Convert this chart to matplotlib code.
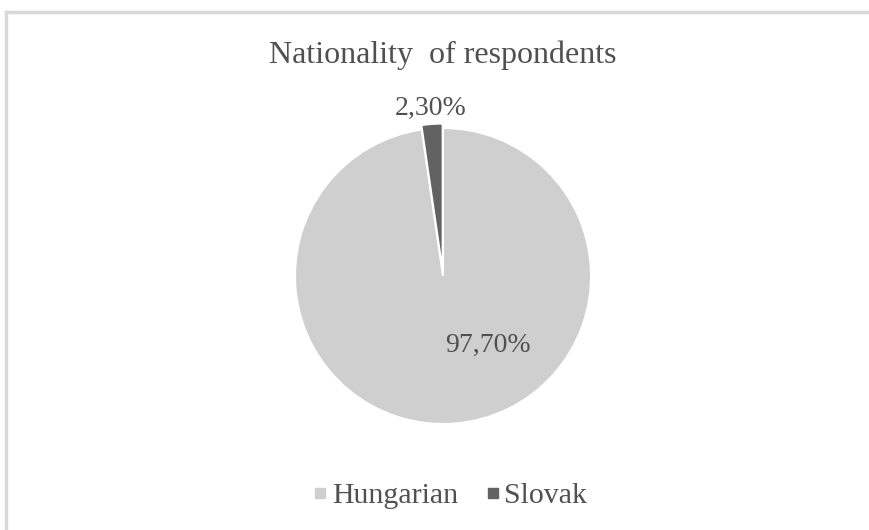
import matplotlib
matplotlib.use("Agg")
import matplotlib.pyplot as plt
from matplotlib.lines import Line2D

categories = ["Hungarian", "Slovak"]
shares     = [97.70, 2.30]
labels     = ["97,70%", "2,30%"]
colours    = ["#d0cfcf", "#626262"]
TEXT       = "#505050"

plt.rcParams["font.family"] = ["Liberation Serif", "DejaVu Serif"]

fig = plt.figure(figsize=(8.69, 5.30), dpi=100)
fig.patch.set_facecolor("white")


def px(x, y):
    return x / 869, 1 - y / 530


# chart frame (only top and left edges visible in the crop)
fig.add_artist(Line2D([6 / 869, 6 / 869], [0, 1 - 12 / 530], color="#d9d9d9", lw=2.5))
fig.add_artist(Line2D([6 / 869, 1], [1 - 12 / 530, 1 - 12 / 530], color="#d9d9d9", lw=2.5))

# pie axes: centre ~ (443, 276), radius ~148 px
r = 148
cx, cy = 443, 276
ax = fig.add_axes([(cx - r) / 869, 1 - (cy + r) / 530, 2 * r / 869, 2 * r / 530])
ax.pie(
    shares, colors=colours, startangle=90, counterclock=False,
    explode=[0, 0.03], radius=1,
    wedgeprops=dict(edgecolor="white", linewidth=1.5),
)
ax.set_xlim(-1, 1)
ax.set_ylim(-1, 1)
ax.set_aspect("equal")
ax.axis("off")

fig.text(*px(443, 55), "Nationality  of respondents", ha="center", va="center",
         fontsize=23, color=TEXT)
fig.text(*px(488, 345), labels[0], ha="center", va="center", fontsize=20, color=TEXT)
fig.text(*px(431, 108), labels[1], ha="center", va="center", fontsize=20, color=TEXT)

handles = [Line2D([], [], marker="s", ls="", color=c, markersize=6.5) for c in colours]
fig.legend(handles, categories, loc="center", bbox_to_anchor=px(450, 496),
           ncol=2, frameon=False, fontsize=21.5, labelcolor=TEXT,
           handletextpad=0.15, columnspacing=0.9, handlelength=0.5)

fig.savefig("out.png", dpi=100, facecolor="white")
